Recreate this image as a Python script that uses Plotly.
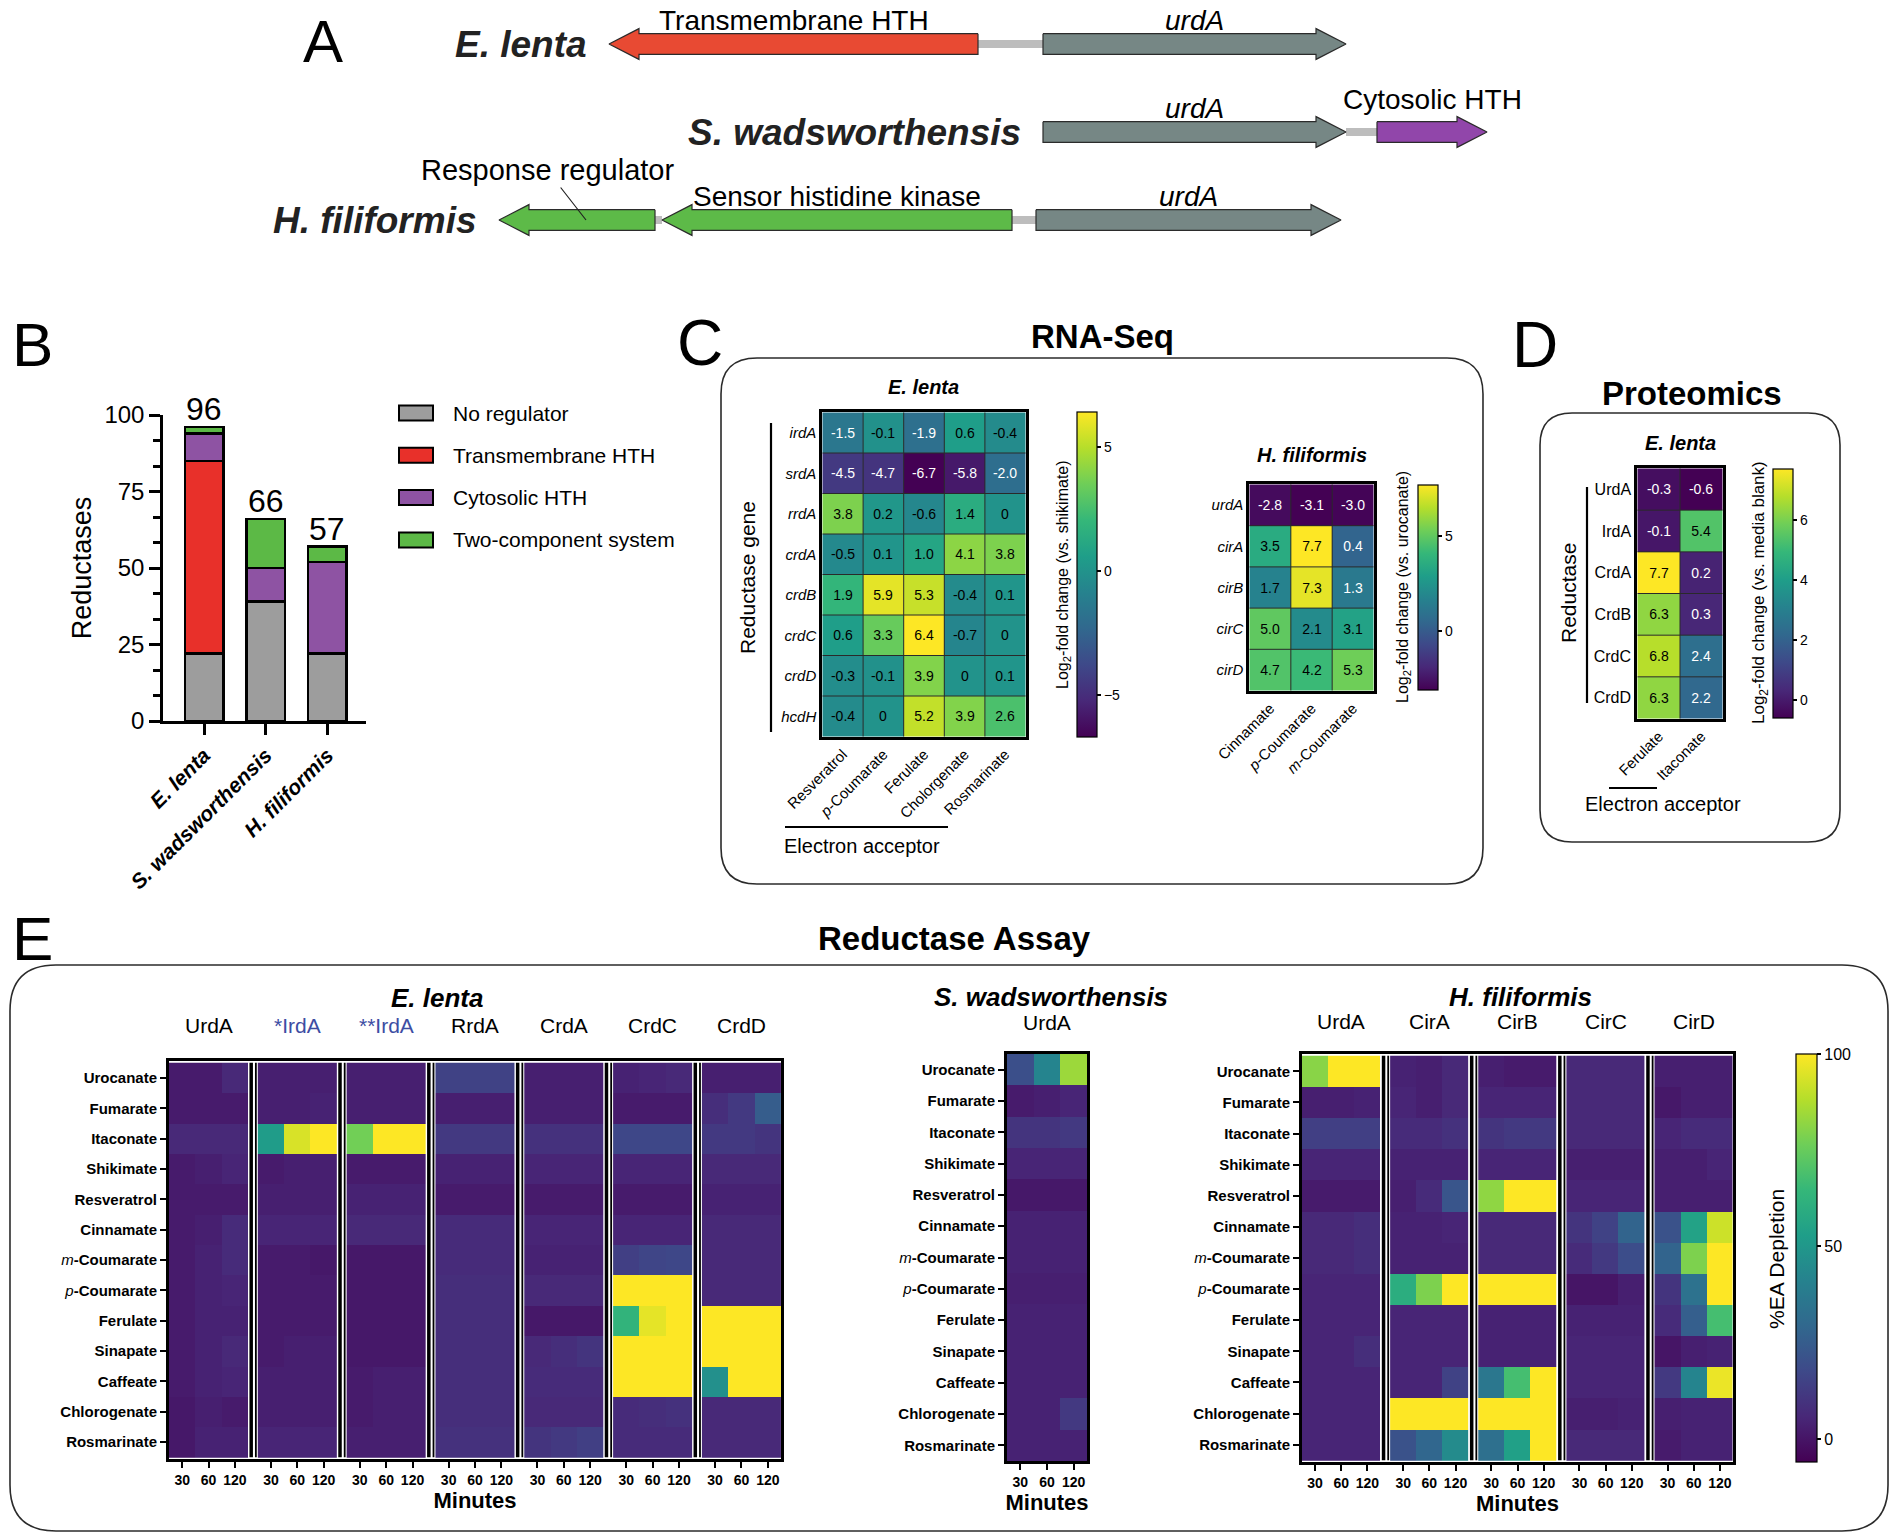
import plotly.graph_objects as go

W, H = 1898, 1538
PAGE = 8  # the browser's default body margin shifts the figure by this much
FONT = "Liberation Sans, Arial, Helvetica, sans-serif"
NARROW = "Liberation Sans Narrow, Liberation Sans, Arial, sans-serif"

# %% data ------------------------------------------------------------------
# A: gene neighbourhoods, kb relative to the start of urdA
a_species = ["E. lenta", "S. wadsworthensis", "H. filiformis"]
gene_row = [0, 0, 1, 1, 2, 2, 2]
gene_name = ["Transmembrane HTH", "urdA", "urdA", "Cytosolic HTH",
             "Response regulator", "Sensor histidine kinase", "urdA"]
gene_start = [-4.34, 0.0, 0.0, 3.34, -5.44, -3.81, -0.07]
gene_end = [-0.65, 3.03, 3.03, 4.44, -3.88, -0.31, 2.98]
gene_strand = [-1, 1, 1, 1, -1, -1, 1]

# B: reductases per genome, by regulator type
b_species = ["E. lenta", "S. wadsworthensis", "H. filiformis"]
b_no_regulator = [22, 39, 22]
b_transmembrane = [63, 0, 0]
b_cytosolic = [9, 11, 30]
b_two_component = [2, 16, 5]

# C: RNA-Seq log2 fold change
c_el_genes = ["irdA", "srdA", "rrdA", "crdA", "crdB", "crdC", "crdD", "hcdH"]
c_el_acceptors = ["Resveratrol", "p-Coumarate", "Ferulate", "Cholorgenate", "Rosmarinate"]
c_el_lfc = [[-1.5, -0.1, -1.9, 0.6, -0.4],
            [-4.5, -4.7, -6.7, -5.8, -2.0],
            [3.8, 0.2, -0.6, 1.4, 0],
            [-0.5, 0.1, 1.0, 4.1, 3.8],
            [1.9, 5.9, 5.3, -0.4, 0.1],
            [0.6, 3.3, 6.4, -0.7, 0],
            [-0.3, -0.1, 3.9, 0, 0.1],
            [-0.4, 0, 5.2, 3.9, 2.6]]
c_hf_genes = ["urdA", "cirA", "cirB", "cirC", "cirD"]
c_hf_acceptors = ["Cinnamate", "p-Coumarate", "m-Coumarate"]
c_hf_lfc = [[-2.8, -3.1, -3.0],
            [3.5, 7.7, 0.4],
            [1.7, 7.3, 1.3],
            [5.0, 2.1, 3.1],
            [4.7, 4.2, 5.3]]

# D: proteomics log2 fold change
d_reductases = ["UrdA", "IrdA", "CrdA", "CrdB", "CrdC", "CrdD"]
d_acceptors = ["Ferulate", "Itaconate"]
d_lfc = [[-0.3, -0.6], [-0.1, 5.4], [7.7, 0.2], [6.3, 0.3], [6.8, 2.4], [6.3, 2.2]]

# E: reductase assay, % electron acceptor depleted at 30/60/120 min
e_acceptors = ["Urocanate", "Fumarate", "Itaconate", "Shikimate", "Resveratrol",
               "Cinnamate", "m-Coumarate", "p-Coumarate", "Ferulate", "Sinapate",
               "Caffeate", "Chlorogenate", "Rosmarinate"]
e_minutes = [30, 60, 120]

el_enzymes = ["UrdA", "*IrdA", "**IrdA", "RrdA", "CrdA", "CrdC", "CrdD"]
el_urda = [[2, 2, 6], [2, 2, 2], [6, 6, 6], [2, 3, 5], [2, 2, 2], [2, 3, 7], [2, 4, 7],
           [2, 4, 5], [2, 4, 4], [2, 4, 6], [2, 4, 5], [1, 3, 2], [1, 4, 4]]
el_irda1 = [[3, 3, 3], [3, 3, 4], [52, 94, 100], [2, 3, 3], [3, 3, 3], [5, 5, 5], [2, 2, 1],
            [2, 2, 2], [2, 2, 2], [2, 3, 3], [3, 3, 3], [3, 3, 3], [5, 5, 5]]
el_irda2 = [[3, 3, 3], [3, 3, 3], [77, 100, 100], [2, 2, 2], [4, 4, 4], [6, 6, 6], [1, 1, 1],
            [1, 1, 1], [1, 1, 1], [1, 1, 1], [2, 3, 3], [2, 3, 3], [3, 3, 3]]
el_rrda = [[15, 15, 15], [3, 3, 3], [12, 12, 12], [4, 4, 4], [2, 2, 2], [7, 7, 7], [7, 7, 7],
           [8, 8, 8], [8, 8, 8], [8, 8, 8], [8, 8, 8], [8, 8, 8], [9, 9, 9]]
el_crda = [[3, 3, 3], [3, 3, 3], [9, 9, 9], [5, 5, 5], [2, 2, 2], [5, 5, 5], [4, 4, 4],
           [6, 6, 6], [1, 1, 1], [6, 8, 10], [7, 7, 7], [6, 6, 6], [10, 12, 14]]
el_crdc = [[4, 5, 6], [2, 2, 2], [17, 17, 17], [5, 5, 5], [2, 2, 2], [5, 5, 5], [14, 16, 17],
           [100, 100, 100], [63, 96, 100], [100, 100, 100], [100, 100, 100], [7, 8, 9], [7, 7, 7]]
el_crdd = [[3, 3, 3], [8, 12, 25], [12, 12, 10], [6, 6, 6], [4, 4, 4], [6, 6, 6], [6, 6, 6],
           [6, 6, 6], [100, 100, 100], [100, 100, 100], [47, 100, 100], [6, 6, 6], [6, 6, 6]]

sw_enzymes = ["UrdA"]
sw_urda = [[20, 42, 84], [2, 3, 5], [10, 10, 12], [5, 5, 5], [1, 1, 1], [4, 4, 4], [4, 4, 4],
           [3, 3, 3], [4, 4, 4], [4, 4, 4], [4, 4, 4], [4, 4, 12], [4, 4, 4]]

hf_enzymes = ["UrdA", "CirA", "CirB", "CirC", "CirD"]
hf_urda = [[81, 100, 100], [3, 3, 4], [14, 14, 14], [5, 5, 5], [2, 2, 2], [6, 6, 8], [6, 6, 8],
           [5, 5, 5], [5, 5, 5], [5, 5, 8], [5, 5, 5], [5, 5, 5], [5, 5, 5]]
hf_cira = [[4, 3, 6], [5, 3, 6], [7, 7, 9], [4, 4, 4], [3, 7, 22], [4, 4, 5], [4, 4, 4],
           [60, 79, 100], [5, 5, 5], [5, 5, 5], [5, 5, 15], [100, 100, 100], [21, 29, 45]]
hf_cirb = [[3, 2, 2], [5, 5, 5], [10, 12, 12], [5, 5, 5], [82, 100, 100], [6, 6, 6], [6, 6, 6],
           [100, 100, 100], [4, 4, 4], [4, 4, 4], [36, 68, 100], [100, 100, 100], [33, 54, 100]]
hf_circ = [[6, 6, 6], [6, 6, 6], [6, 6, 6], [3, 3, 3], [5, 5, 5], [10, 15, 28], [7, 12, 19],
           [0, 0, 3], [4, 4, 4], [5, 5, 5], [5, 5, 5], [3, 3, 4], [6, 6, 6]]
hf_cird = [[3, 3, 3], [1, 3, 3], [5, 7, 7], [3, 3, 5], [3, 3, 3], [21, 55, 92], [28, 79, 100],
           [10, 34, 100], [7, 26, 68], [0, 3, 4], [12, 42, 97], [3, 4, 4], [2, 4, 4]]

# %% helpers ---------------------------------------------------------------
def fx(p):
    return (p - PAGE) / W


def fy(p):
    return 1 - (p - PAGE) / H


fig = go.Figure()
lay = {}


def label(text, x, y, size, weight="normal", style="normal", angle=0,
          xanchor="center", color="black", family=FONT):
    fig.add_annotation(text=text, x=fx(x), y=fy(y), xref="paper", yref="paper",
                       showarrow=False, textangle=angle, xanchor=xanchor, yanchor="middle",
                       font=dict(size=size, family=family, color=color, weight=weight, style=style))


def pline(x0, y0, x1, y1, w=2.0):
    fig.add_shape(type="line", xref="paper", yref="paper", x0=fx(x0), y0=fy(y0),
                  x1=fx(x1), y1=fy(y1), line=dict(color="black", width=w))


def rounded_box(x0, y0, x1, y1, r):
    def P(x, y):
        return f"{fx(x):.5f},{fy(y):.5f}"
    path = (f"M {P(x0 + r, y0)} L {P(x1 - r, y0)} Q {P(x1, y0)} {P(x1, y0 + r)} "
            f"L {P(x1, y1 - r)} Q {P(x1, y1)} {P(x1 - r, y1)} L {P(x0 + r, y1)} "
            f"Q {P(x0, y1)} {P(x0, y1 - r)} L {P(x0, y0 + r)} Q {P(x0, y0)} {P(x0 + r, y0)} Z")
    fig.add_shape(type="path", path=path, xref="paper", yref="paper",
                  line=dict(color="#2b2b2b", width=1.6))


def chem(name):
    # italic ring-position prefix, e.g. p-Coumarate
    if name[:2] in ("p-", "m-"):
        return f"<i>{name[0]}</i>{name[1:]}"
    return name


def cell_text(mat, lo, hi):
    # white numbers on the dark end of viridis, black on the light end
    out = []
    for row in mat:
        line = []
        for v in row:
            s = "0" if v == 0 else f"{v:.1f}"
            if (v - lo) / (hi - lo) < 0.43:
                s = f"<span style='color:white'>{s}</span>"
            line.append(s)
        out.append(line)
    return out


def cbar(x, y0, y1, tickvals, size=14, thick=20):
    return dict(x=fx(x), xanchor="left", y=fy(y0), yanchor="top", len=(y1 - y0) / H,
                lenmode="fraction", thickness=thick, thicknessmode="pixels", xpad=0, ypad=0,
                outlinewidth=1.2, outlinecolor="black", ticks="outside", ticklen=4,
                tickwidth=1.5, tickcolor="black", tickvals=tickvals,
                tickfont=dict(size=size, family=FONT, color="black"))


# %% A: gene diagrams --------------------------------------------------------
gene_colors = {"Transmembrane HTH": "#e84a33", "urdA": "#768785", "Cytosolic HTH": "#9146aa",
               "Response regulator": "#5dba48", "Sensor histidine kinase": "#5dba48"}
HEAD, BODY, TIP = 0.30, 0.117, 0.175

for r in range(len(a_species)):
    idx = sorted([i for i in range(len(gene_row)) if gene_row[i] == r], key=lambda i: gene_start[i])
    for a, b in zip(idx[:-1], idx[1:]):
        x0 = max(gene_start[a], gene_end[a])
        x1 = min(gene_start[b], gene_end[b])
        fig.add_scatter(x=[x0, x1], y=[r, r], mode="lines", xaxis="x", yaxis="y",
                        line=dict(color="#bdbdbd", width=8), showlegend=False, hoverinfo="skip")

for i in range(len(gene_row)):
    s, e, r = gene_start[i], gene_end[i], gene_row[i]
    tail, tip = (s, e) if gene_strand[i] > 0 else (e, s)
    neck = tip - gene_strand[i] * HEAD
    xs = [tail, neck, neck, tip, neck, neck, tail, tail]
    ys = [r - BODY, r - BODY, r - TIP, r, r + TIP, r + BODY, r + BODY, r - BODY]
    fig.add_scatter(x=xs, y=ys, mode="lines", fill="toself", xaxis="x", yaxis="y",
                    fillcolor=gene_colors[gene_name[i]], line=dict(color="#2b2b2b", width=1.2),
                    showlegend=False, hoverinfo="skip")
    name = gene_name[i]
    text = f"<i>{name}</i>" if name == "urdA" else name
    if name == "Response regulator":
        fig.add_annotation(text=text, x=(s + e) / 2 + 0.09, y=r, xref="x", yref="y",
                           showarrow=True, arrowhead=0, arrowwidth=1.2, arrowcolor="#222",
                           ax=-39, ay=-50, standoff=0,
                           font=dict(size=29, family=NARROW, color="black"))
    else:
        lift = 0.37 if name == "Cytosolic HTH" else 0.27
        fig.add_annotation(text=text, x=(s + e) / 2, y=r - lift, xref="x", yref="y",
                           showarrow=False, font=dict(size=28, family=NARROW, color="black"))

for r, sp in enumerate(a_species):
    left = min(min(gene_start[i], gene_end[i]) for i in range(len(gene_row)) if gene_row[i] == r)
    fig.add_annotation(text=sp, x=left - 0.2, y=r, xref="x", yref="y", xanchor="right",
                       showarrow=False, font=dict(size=37, family=FONT, color="#222",
                                                  weight="bold", style="italic"))

# rows sit 88 px apart, first row centred at y = 44 px; 100 px per kb, urdA starts at x = 1043 px
lay["xaxis"] = dict(domain=[fx(250), fx(1520)], range=[(250 - 1043) / 100, (1520 - 1043) / 100],
                    visible=False, anchor="y")
lay["yaxis"] = dict(domain=[fy(260), fy(PAGE)], range=[(260 - 44) / 88, (PAGE - 44) / 88],
                    visible=False, anchor="x")

# %% B: stacked bars -----------------------------------------------------------
b_series = [("No regulator", b_no_regulator, "#9d9d9d"),
            ("Transmembrane HTH", b_transmembrane, "#e8302a"),
            ("Cytosolic HTH", b_cytosolic, "#8e53a3"),
            ("Two-component system", b_two_component, "#5cb946")]
for name, vals, col in b_series:
    fig.add_bar(x=b_species, y=vals, xaxis="x2", yaxis="y2", name=name, width=0.62,
                marker=dict(color=col, line=dict(color="black", width=2.5)), showlegend=False)

totals = [sum(v) for v in zip(b_no_regulator, b_transmembrane, b_cytosolic, b_two_component)]
for sp, tot in zip(b_species, totals):
    fig.add_annotation(text=str(tot), x=sp, y=tot, xref="x2", yref="y2", yanchor="bottom",
                       yshift=-2, showarrow=False, font=dict(size=32, family=FONT, color="black"))

for k, (name, _, col) in enumerate(b_series):
    yc = 413 + 42.3 * k
    fig.add_shape(type="rect", xref="paper", yref="paper", x0=fx(399), x1=fx(433),
                  y0=fy(yc - 7.5), y1=fy(yc + 7.5), fillcolor=col, line=dict(color="black", width=2))
    label(name, 451, yc, 21, xanchor="left")

lay["xaxis2"] = dict(domain=[fx(163), fx(366)], range=[-0.67, 2.63], anchor="y2",
                     showline=True, linecolor="black", linewidth=2.5, ticks="outside", ticklen=11,
                     tickwidth=2.5, tickcolor="black", tickangle=-45, showgrid=False,
                     tickfont=dict(size=21, family=FONT, color="black", weight="bold", style="italic"))
lay["yaxis2"] = dict(domain=[fy(721), fy(415)], range=[0, 100], anchor="x2", tickvals=[0, 25, 50, 75, 100],
                     showline=True, linecolor="black", linewidth=2.5, ticks="outside", ticklen=11,
                     tickwidth=2.5, tickcolor="black", showgrid=False, zeroline=False,
                     minor=dict(ticks="outside", dtick=25 / 3, tick0=0, ticklen=7, tickwidth=2.5,
                                tickcolor="black", showgrid=False),
                     tickfont=dict(size=24, family=FONT, color="black"),
                     title=dict(text="Reductases", standoff=5, font=dict(size=27, family=FONT, color="black")))


# %% C and D: annotated log2 fold-change heatmaps --------------------------------
def lfc_heatmap(n, rows, cols, vals, cax, lo, hi, box, row_italic):
    x0, x1, y0, y1 = box
    fig.add_heatmap(z=vals, x=cols, y=rows, text=cell_text(vals, lo, hi), texttemplate="%{text}",
                    textfont=dict(size=14, family=FONT, color="black"), coloraxis=cax,
                    xaxis=f"x{n}", yaxis=f"y{n}", hoverinfo="skip")
    for i in range(1, len(cols)):
        fig.add_shape(type="line", xref=f"x{n}", yref=f"y{n}", x0=i - 0.5, x1=i - 0.5,
                      y0=-0.5, y1=len(rows) - 0.5, line=dict(color="#2a2a2a", width=1), layer="above")
    for j in range(1, len(rows)):
        fig.add_shape(type="line", xref=f"x{n}", yref=f"y{n}", x0=-0.5, x1=len(cols) - 0.5,
                      y0=j - 0.5, y1=j - 0.5, line=dict(color="#2a2a2a", width=1), layer="above")
    frame = dict(showline=True, linecolor="black", linewidth=2.5, mirror=True, ticks="",
                 showgrid=False, zeroline=False)
    lay[f"xaxis{n}"] = dict(domain=[fx(x0), fx(x1)], anchor=f"y{n}", tickangle=-45,
                            tickvals=cols, ticktext=[chem(c) for c in cols],
                            tickfont=dict(size=15, family=FONT, color="black"), **frame)
    lay[f"yaxis{n}"] = dict(domain=[fy(y1), fy(y0)], anchor=f"x{n}", autorange="reversed",
                            tickvals=rows, ticktext=[f"<i>{r}</i>" if row_italic else r for r in rows],
                            tickfont=dict(size=15 if row_italic else 16, family=FONT, color="black"),
                            **frame)
    lay["coloraxis" + ("" if cax == "coloraxis" else cax[-1])] = dict(colorscale="Viridis", cmin=lo, cmax=hi)


lfc_heatmap(3, c_el_genes, c_el_acceptors, c_el_lfc, "coloraxis", -6.7, 6.4, (822, 1026, 412, 737), True)
lfc_heatmap(4, c_hf_genes, c_hf_acceptors, c_hf_lfc, "coloraxis2", -3.1, 7.7, (1249, 1374, 484, 691), True)
lfc_heatmap(5, d_reductases, d_acceptors, d_lfc, "coloraxis3", -0.6, 7.7, (1637, 1723, 468, 719), False)

lay["coloraxis"]["colorbar"] = cbar(1077, 412, 737, [-5, 0, 5])
lay["coloraxis2"]["colorbar"] = cbar(1418, 485, 690, [0, 5])
lay["coloraxis3"]["colorbar"] = cbar(1773, 469, 718, [0, 2, 4, 6])

# C decorations
rounded_box(721, 358, 1483, 884, 36)
label("C", 700, 343, 64)
label("RNA-Seq", 1102, 337, 33, weight="bold")
label("E. lenta", 923, 387, 20, weight="bold", style="italic")
label("H. filiformis", 1312, 455, 20, weight="bold", style="italic")
pline(771, 423, 771, 732, 2.2)
label("Reductase gene", 747, 578, 21, angle=-90)
pline(785, 827, 948, 827, 2.2)
label("Electron acceptor", 862, 846, 20)
label("Log<sub>2</sub>-fold change (vs. shikimate)", 1063, 575, 16, angle=-90)
label("Log<sub>2</sub>-fold change (vs. urocanate)", 1403, 587, 16, angle=-90)

# D decorations
rounded_box(1540, 413, 1840, 842, 32)
label("D", 1535, 345, 64)
label("Proteomics", 1692, 393, 33, weight="bold")
label("E. lenta", 1680, 443, 20, weight="bold", style="italic")
pline(1587, 487, 1587, 703, 2.2)
label("Reductase", 1568, 593, 21, angle=-90)
pline(1609, 788, 1657, 788, 2.2)
label("Electron acceptor", 1663, 804, 20)
label("Log<sub>2</sub>-fold change (vs. media blank)", 1760, 593, 17, angle=-90)

# %% E: reductase assay heatmaps ------------------------------------------------
GAP = 0.37
P = 3 + GAP


def assay(n, enzymes, mats, box, head_y, blue=()):
    x0, x1, y0, y1 = box
    centers = []
    for g, (enz, mat) in enumerate(zip(enzymes, mats)):
        xs = [g * P + j for j in range(len(e_minutes))]
        centers += xs
        fig.add_heatmap(z=mat, x=xs, y=e_acceptors, coloraxis="coloraxis4",
                        xaxis=f"x{n}", yaxis=f"y{n}", hoverinfo="skip")
        fig.add_annotation(text=enz, x=g * P + 1, xref=f"x{n}", y=fy(head_y), yref="paper",
                           showarrow=False,
                           font=dict(size=21, family=FONT, color="#3d4da3" if enz in blue else "black"))
        if g < len(enzymes) - 1:
            a = g * P + 2.5
            for frac, w in ((0.32, 3.5), (0.8, 1.8)):
                fig.add_shape(type="line", xref=f"x{n}", yref=f"y{n}", x0=a + frac * GAP,
                              x1=a + frac * GAP, y0=-0.5, y1=len(e_acceptors) - 0.5,
                              line=dict(color="black", width=w), layer="above")
    axis = dict(showline=True, linecolor="black", linewidth=3, mirror=True, ticks="outside",
                ticklen=6, tickwidth=2, tickcolor="black", showgrid=False, zeroline=False)
    lay[f"xaxis{n}"] = dict(domain=[fx(x0), fx(x1)], anchor=f"y{n}",
                            range=[-0.5, (len(enzymes) - 1) * P + 2.5],
                            tickvals=centers, ticktext=[str(m) for m in e_minutes] * len(enzymes),
                            tickfont=dict(size=14, family=FONT, color="black", weight="bold"),
                            title=dict(text="Minutes", standoff=6,
                                       font=dict(size=22, family=FONT, color="black", weight="bold")),
                            **axis)
    lay[f"yaxis{n}"] = dict(domain=[fy(y1), fy(y0)], anchor=f"x{n}", autorange="reversed",
                            tickvals=e_acceptors,
                            ticktext=[f"<i>{a[0]}</i><b>{a[1:]}</b>" if a[:2] in ("p-", "m-") else f"<b>{a}</b>"
                                      for a in e_acceptors],
                            tickfont=dict(size=15, family=FONT, color="black"), **axis)


assay(6, el_enzymes, [el_urda, el_irda1, el_irda2, el_rrda, el_crda, el_crdc, el_crdd],
      (169, 781, 1061, 1459), 1039, blue=("*IrdA", "**IrdA"))
assay(7, sw_enzymes, [sw_urda], (1007, 1087, 1054, 1461), 1036)
assay(8, hf_enzymes, [hf_urda, hf_cira, hf_cirb, hf_circ, hf_cird], (1302, 1733, 1054, 1462), 1035)

lay["coloraxis4"] = dict(colorscale="Viridis", cmin=-6, cmax=100,
                         colorbar=cbar(1796, 1054, 1462, [0, 50, 100], size=16, thick=21))

rounded_box(10, 965, 1888, 1531, 46)
label("E", 32, 938, 62)
label("Reductase Assay", 954, 938, 33, weight="bold")
label("E. lenta", 437, 998, 26, weight="bold", style="italic")
label("S. wadsworthensis", 1051, 997, 26, weight="bold", style="italic")
label("H. filiformis", 1520, 997, 26, weight="bold", style="italic")
label("%EA Depletion", 1776, 1259, 21, angle=-90)

# panel letters A and B
label("A", 323, 42, 60)
label("B", 32, 344, 62)

# fixed geometry: no axis or colorbar may push the margins
for key, ax in lay.items():
    if key.startswith(("xaxis", "yaxis")):
        ax["automargin"] = False

fig.update_layout(width=W, height=H, margin=dict(l=0, r=0, t=0, b=0, pad=0, autoexpand=False),
                  autosize=False, barmode="stack", plot_bgcolor="white", paper_bgcolor="white",
                  font=dict(family=FONT, color="black"), showlegend=False, **lay)

fig.write_html("out.html")
